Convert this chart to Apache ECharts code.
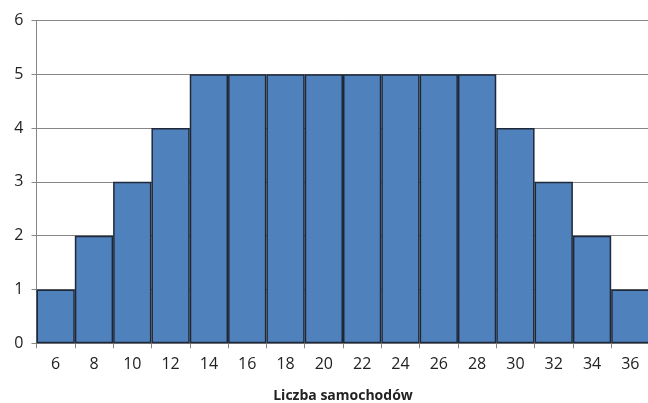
<!DOCTYPE html>
<html>
<head>
<meta charset="utf-8">
<script src="https://cdn.jsdelivr.net/npm/echarts@6/dist/echarts.min.js"></script>
<style>
  html, body { margin: 0; padding: 0; background: #fff; }
  #chart { width: 648px; height: 403px; }
</style>
</head>
<body>
<div id="chart"></div>
<script>
// Histogram: number of cars per class
var categories = ['6', '8', '10', '12', '14', '16', '18', '20', '22', '24', '26', '28', '30', '32', '34', '36'];
var counts = [1, 2, 3, 4, 5, 5, 5, 5, 5, 5, 5, 5, 4, 3, 2, 1];
var yTicks = [0, 1, 2, 3, 4, 5, 6];
var xTitle = 'Liczba samochodów';

var chart = echarts.init(document.getElementById('chart'));
var font = 'Open Sans, Liberation Sans, sans-serif';

chart.setOption({
  animation: false,
  grid: { left: 36.5, top: 20.3, width: 613, height: 323, outerBoundsMode: 'none', containLabel: false },
  xAxis: {
    type: 'category',
    data: categories,
    boundaryGap: true,
    name: xTitle,
    nameLocation: 'middle',
    nameGap: 46,
    nameTextStyle: { fontFamily: font, fontSize: 14, fontWeight: 'bold', color: '#222' },
    axisLine: { lineStyle: { color: '#868686', width: 1 } },
    axisTick: { show: true, alignWithLabel: false, length: 5, lineStyle: { color: '#868686' } },
    axisLabel: { fontFamily: font, fontSize: 16, color: '#222', margin: 13 },
    splitLine: { show: false }
  },
  yAxis: {
    type: 'value',
    min: yTicks[0],
    max: yTicks[yTicks.length - 1],
    interval: 1,
    axisLine: { show: true, lineStyle: { color: '#868686', width: 1 } },
    axisTick: { show: true, length: 5, lineStyle: { color: '#868686' } },
    axisLabel: { fontFamily: font, fontSize: 16, color: '#222', margin: 13 },
    splitLine: { show: true, lineStyle: { color: '#868686', width: 1 } }
  },
  series: [{
    type: 'bar',
    data: counts,
    barCategoryGap: '0%',
    itemStyle: { color: '#4F81BD', borderColor: '#1F2838', borderWidth: 1.5 }
  }]
});
</script>
</body>
</html>
